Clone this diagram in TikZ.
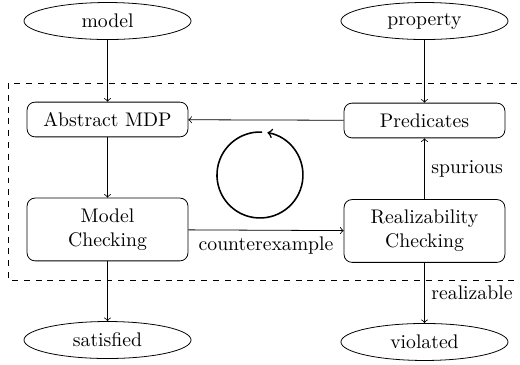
\documentclass[tikz,border=0pt]{standalone}
\usetikzlibrary{shapes.geometric}
\begin{document}
\begin{tikzpicture}[
    io/.style={draw, ellipse, minimum width=2.98cm, minimum height=0.66cm, inner sep=0pt},
    stage/.style={draw, rounded corners=4pt, minimum width=2.87cm, minimum height=0.62cm, align=center},
    tallstage/.style={stage, minimum height=1.12cm},
    flow/.style={->}
]

    \useasboundingbox (0,0) rectangle (9.277,-6.494);

    % Refinement loop
    \draw[dashed] (0.143,-1.481) rectangle (9.6,-4.995);

    %-------------
    % Inputs
    \node[io] (model) at (1.918,-0.375) {model};
    \node[io] (property) at (7.573,-0.375) {property};

    %-------------
    % Loop stages
    \node[stage] (absmdp) at (1.918,-2.132) {Abstract MDP};
    \node[stage] (pred) at (7.573,-2.150) {Predicates};
    \node[tallstage] (mc) at (1.918,-4.094) {Model\\Checking};
    \node[tallstage] (real) at (7.573,-4.121) {Realizability\\Checking};

    %-------------
    % Outputs
    \node[io] (satisfied) at (1.918,-6.066) {satisfied};
    \node[io] (violated) at (7.573,-6.101) {violated};

    %-------------
    \draw[flow] (model) -- (absmdp);
    \draw[flow] (property) -- (pred);
    \draw[flow] (pred) -- (absmdp);
    \draw[flow] (absmdp) -- (mc);
    \draw[flow] (mc) -- node[below] {counterexample} (real);
    \draw[flow] (real) -- node[right] {spurious} (pred);
    \draw[flow] (mc) -- (satisfied);
    \draw[flow] (real) -- node[right] {realizable} (violated);

    % Cycle mark
    \draw[thick, ->] (4.638,-3.122) ++(87:0.767) arc[start angle=87, end angle=440, radius=0.767];

\end{tikzpicture}
\end{document}
